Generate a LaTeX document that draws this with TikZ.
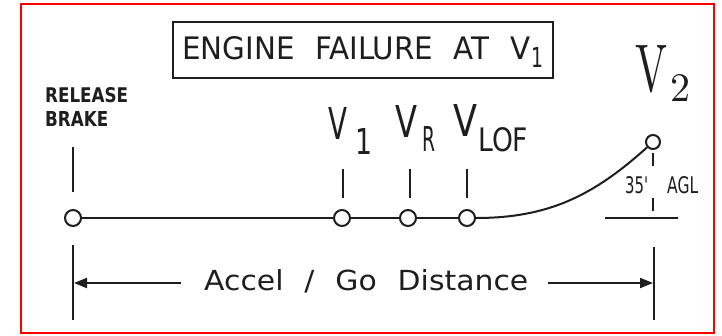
\documentclass[tikz,border=0pt]{standalone}
\usepackage{fontspec}
\usepackage{graphicx}
\usetikzlibrary{arrows.meta}
\newfontfamily\cadfont{DejaVu Sans}
\newcommand\fitbox[3]{\resizebox{#1pt}{#2pt}{#3}}
\newcommand\wsp{\hspace{0.7em}}
\definecolor{ink}{HTML}{1E1E1E}
\tikzset{
  lbl/.style={inner sep=0pt, anchor=south west, text=ink, font=\cadfont},
  dot/.style={circle, draw=ink, fill=white, line width=2pt, minimum size=16pt, inner sep=0pt},
  ln/.style={draw=ink, line width=2pt},
  arr/.style={ln, -{Triangle[length=13pt,width=10pt]}},
}
\begin{document}
\begin{tikzpicture}[x=1pt,y=-1pt]
\useasboundingbox (0,0) rectangle (722,335);
\fill[white] (0,0) rectangle (722,335);
% red frame
\draw[red, line width=2.5pt] (21,4) rectangle (714,333);
% title box
\draw[ink, line width=1.8pt] (173,22) rectangle (553,78);
\node[lbl] (title) at (182,60) {\fitbox{348}{23}{ENGINE\wsp FAILURE\wsp AT\wsp V}};
\node[lbl] (titlesub) at (531,68) {\fitbox{12}{20}{1}};
% release brake
\node[lbl] (rel) at (45,103) {\fitbox{83}{15}{\bfseries RELEASE}};
\node[lbl] (brk) at (45,127) {\fitbox{63}{15}{\bfseries BRAKE}};
% speed labels
\node[lbl] (v1V) at (328,140) {\fitbox{19}{32}{V}};
\node[lbl] (v1s) at (355,155) {\fitbox{17}{26}{1}};
\node[lbl] (vrV) at (395,138) {\fitbox{22}{32}{V}};
\node[lbl] (vrs) at (422,152) {\fitbox{13}{25}{R}};
\node[lbl] (vlV) at (453,137) {\fitbox{24}{32}{V}};
\node[lbl] (vls) at (478,152) {\fitbox{50}{24}{LOF}};
\node[inner sep=0pt, anchor=south west, text=ink] (v2V) at (635,93) {\fitbox{32}{46}{\rmfamily V}};
\node[inner sep=0pt, anchor=south west, text=ink] (v2s) at (670,102) {\fitbox{20}{27}{\rmfamily 2}};
\node[lbl] (agl1) at (625,194) {\fitbox{23}{17}{35'}};
\node[lbl] (agl2) at (667,194) {\fitbox{31}{17}{AGL}};
% ticks
\draw[ln] (73,147) -- (73,192);
\draw[ln] (343,169) -- (343,198);
\draw[ln] (410,169) -- (410,198);
\draw[ln] (467,169) -- (467,198);
% ground line and circles
\node[dot] (rb) at (73,218) {};
\node[dot] (v1) at (342,218) {};
\node[dot] (vr) at (408,218) {};
\node[dot] (vlof) at (467,218) {};
\node[dot, minimum size=14pt] (v2) at (653,142) {};
\draw[ln] (rb) -- (v1) -- (vr) -- (vlof);
\draw[ln] (vlof) to[out=0, in=222] (v2);
% 35 ft marker
\draw[ln, line width=1.4pt] (653,153) -- (653,166);
\draw[ln, line width=1.4pt] (653,198) -- (653,211);
\draw[ln] (605,218) -- (678,218);
% distance
\coordinate (lbt) at (73,245);
\coordinate (lbb) at (73,320);
\coordinate (rbt) at (654,247);
\coordinate (rbb) at (654,320);
\draw[ln] (lbt) -- (lbb);
\draw[ln] (rbt) -- (rbb);
\coordinate (la) at (181,283);
\coordinate (lt) at (74,283);
\coordinate (ra) at (548,283);
\coordinate (rt) at (653,283);
\draw[arr] (la) -- (lt);
\draw[arr] (ra) -- (rt);
\node[lbl] (dist) at (204,293) {\fitbox{324}{21}{Accel\wsp /\wsp Go\wsp Distance}};
\end{tikzpicture}
\end{document}
